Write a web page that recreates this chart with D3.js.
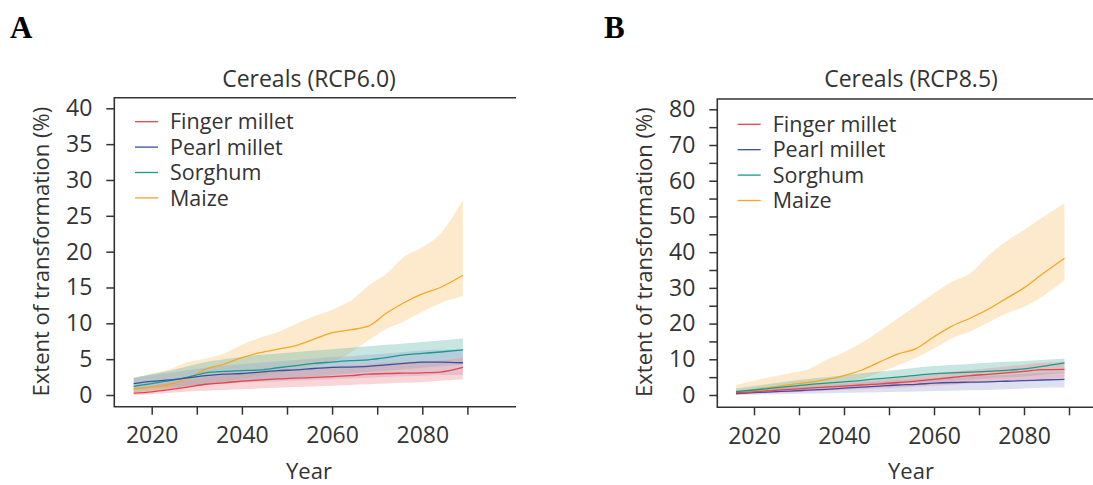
<!DOCTYPE html>
<html>
<head>
<meta charset="utf-8">
<script src="https://cdn.jsdelivr.net/npm/d3@7/dist/d3.min.js"></script>
<style>
  html, body { margin: 0; padding: 0; background: #fff; }
  svg { display: block; }
  text { font-family: "Open Sans", "Noto Sans", sans-serif; fill: #333; }
</style>
</head>
<body>
<svg id="chart" width="1093" height="485"></svg>
<script>
// ---------------- DATA ----------------
const years = [2016, 2020, 2024, 2028, 2032, 2036, 2040, 2044, 2048, 2052, 2056, 2060, 2064, 2068, 2072, 2076, 2080, 2084, 2089];
const crops = ["Finger millet", "Pearl millet", "Sorghum", "Maize"];
const xTicks = [2020, 2030, 2040, 2050, 2060, 2070, 2080, 2090];
const xTickLabels = [2020, 2040, 2060, 2080];
const yTicksA = [0, 5, 10, 15, 20, 25, 30, 35, 40];
const yTicksB = [0, 5, 10, 15, 20, 25, 30, 35, 40, 45, 50, 55, 60, 65, 70, 75, 80];
const yTickLabelsB = [0, 10, 20, 30, 40, 50, 60, 70, 80];

// Panel A  (RCP6.0)
const fingerA_mean = [0.25, 0.45, 0.75, 1.1, 1.5, 1.7, 1.95, 2.1, 2.25, 2.35, 2.45, 2.55, 2.7, 2.9, 3.0, 3.05, 3.1, 3.2, 3.85];
const fingerA_hi   = [1.0, 1.3, 1.7, 2.1, 2.5, 2.8, 3.0, 3.2, 3.4, 3.6, 3.8, 4.0, 4.1, 4.3, 4.5, 4.6, 4.7, 4.8, 5.2];
const fingerA_lo   = [0.0, 0.1, 0.3, 0.5, 0.6, 0.7, 0.8, 0.9, 1.0, 1.1, 1.2, 1.3, 1.4, 1.5, 1.6, 1.7, 1.8, 2.0, 2.2];
const pearlA_mean  = [1.6, 1.9, 2.1, 2.4, 2.7, 2.9, 3.0, 3.2, 3.4, 3.5, 3.7, 3.85, 3.9, 4.0, 4.2, 4.4, 4.6, 4.6, 4.5];
const pearlA_hi    = [2.4, 2.8, 3.1, 3.5, 3.8, 4.1, 4.3, 4.5, 4.7, 4.9, 5.1, 5.3, 5.4, 5.6, 5.8, 6.0, 6.2, 6.3, 6.4];
const pearlA_lo    = [0.8, 1.0, 1.1, 1.3, 1.5, 1.6, 1.7, 1.8, 1.9, 2.0, 2.1, 2.2, 2.3, 2.4, 2.5, 2.6, 2.7, 2.8, 2.8];
const sorghumA_mean= [1.2, 1.6, 2.0, 2.5, 3.1, 3.3, 3.4, 3.5, 3.8, 4.1, 4.4, 4.6, 4.8, 4.9, 5.2, 5.6, 5.8, 6.0, 6.3];
const sorghumA_hi  = [2.4, 2.9, 3.4, 4.0, 4.6, 5.0, 5.3, 5.6, 5.8, 6.0, 6.2, 6.4, 6.6, 6.8, 7.0, 7.2, 7.4, 7.6, 7.9];
const sorghumA_lo  = [0.4, 0.6, 0.8, 1.1, 1.4, 1.6, 1.8, 2.0, 2.2, 2.4, 2.6, 2.8, 3.0, 3.2, 3.4, 3.6, 3.8, 4.0, 4.3];
const maizeA_mean  = [0.85, 1.1, 1.5, 2.3, 3.6, 4.3, 5.2, 5.9, 6.4, 6.9, 7.8, 8.7, 9.1, 9.6, 11.4, 12.9, 14.1, 15.0, 16.7];
const maizeA_hi    = [2.3, 3.0, 3.6, 4.6, 5.1, 5.8, 7.0, 8.0, 8.8, 9.9, 11.0, 11.9, 13.1, 15.2, 16.9, 19.3, 20.6, 22.5, 27.2];
const maizeA_lo    = [0.3, 0.5, 0.8, 1.1, 1.5, 1.9, 2.3, 2.7, 3.1, 3.5, 4.0, 4.6, 5.9, 7.6, 9.2, 10.3, 11.6, 12.8, 13.8];

// Panel B  (RCP8.5)
const fingerB_mean = [0.65, 0.9, 1.25, 1.6, 1.9, 2.2, 2.5, 2.8, 3.1, 3.5, 3.9, 4.4, 4.9, 5.4, 5.8, 6.2, 6.6, 7.1, 7.2];
const fingerB_hi   = [1.3, 1.6, 2.0, 2.4, 2.8, 3.1, 3.5, 3.9, 4.3, 4.8, 5.3, 5.9, 6.5, 7.0, 7.5, 8.0, 8.5, 9.0, 9.4];
const fingerB_lo   = [0.2, 0.4, 0.6, 0.8, 1.0, 1.2, 1.4, 1.6, 1.8, 2.0, 2.3, 2.6, 2.9, 3.2, 3.5, 3.8, 4.1, 4.4, 4.8];
const pearlB_mean  = [0.4, 0.65, 0.9, 1.1, 1.35, 1.6, 1.9, 2.2, 2.5, 2.8, 3.0, 3.3, 3.5, 3.6, 3.7, 3.85, 4.0, 4.2, 4.4];
const pearlB_hi    = [1.0, 1.4, 1.8, 2.1, 2.4, 2.8, 3.1, 3.5, 3.8, 4.1, 4.4, 4.7, 5.0, 5.2, 5.4, 5.7, 5.9, 6.2, 6.5];
const pearlB_lo    = [0.0, 0.1, 0.2, 0.3, 0.4, 0.5, 0.6, 0.7, 0.8, 0.9, 1.0, 1.1, 1.2, 1.3, 1.4, 1.6, 1.8, 2.0, 2.1];
const sorghumB_mean= [0.95, 1.4, 1.9, 2.4, 2.9, 3.3, 3.7, 4.1, 4.6, 5.0, 5.5, 6.0, 6.2, 6.4, 6.6, 6.9, 7.3, 8.0, 9.0];
const sorghumB_hi  = [1.8, 2.5, 3.2, 3.9, 4.5, 5.0, 5.5, 6.1, 6.6, 7.1, 7.6, 8.1, 8.4, 8.7, 9.0, 9.3, 9.5, 9.8, 10.2];
const sorghumB_lo  = [0.4, 0.7, 1.0, 1.3, 1.6, 1.9, 2.2, 2.5, 2.8, 3.1, 3.4, 3.7, 4.0, 4.3, 4.6, 4.9, 5.2, 5.6, 6.3];
const maizeB_mean  = [0.9, 1.5, 2.2, 2.9, 3.5, 4.3, 5.4, 7.0, 9.3, 11.5, 13.0, 16.3, 19.3, 21.5, 24.0, 27.0, 30.0, 33.8, 38.3];
const maizeB_hi    = [2.8, 4.0, 5.1, 6.1, 7.2, 9.8, 12.0, 14.7, 18.0, 21.5, 25.0, 28.5, 31.7, 34.0, 39.0, 43.0, 46.2, 49.6, 53.7];
const maizeB_lo    = [0.0, 0.6, 1.2, 1.8, 2.4, 3.0, 3.6, 4.6, 6.3, 8.3, 10.4, 13.0, 15.9, 17.8, 20.2, 22.8, 24.7, 27.5, 32.2];

// ---------------- STYLE ----------------
const lineColors = { "Finger millet": "#e8424c", "Pearl millet": "#3c4ea0", "Sorghum": "#199a8c", "Maize": "#f5a623" };
const bandColors = { "Finger millet": "#f0888c", "Pearl millet": "#8f98d0", "Sorghum": "#5fb5aa", "Maize": "#f9b54a" };
const bandOpacity = { "Finger millet": 0.35, "Pearl millet": 0.3, "Sorghum": 0.35, "Maize": 0.28 };

const panels = [
  {
    letter: "A", letterX: 10, title: "Cereals (RCP6.0)",
    xRange: [151.7, 422.3], yDomain: [0, 40], yRange: [395, 108.3],
    box: { left: 114.3, right: 516, top: 97.7, bottom: 406.7 },
    yTicks: yTicksA, yLabels: yTicksA,
    yLabelX: 49, legendX: 135, legendY: 121.7,
    series: {
      "Finger millet": [fingerA_mean, fingerA_lo, fingerA_hi],
      "Pearl millet": [pearlA_mean, pearlA_lo, pearlA_hi],
      "Sorghum": [sorghumA_mean, sorghumA_lo, sorghumA_hi],
      "Maize": [maizeA_mean, maizeA_lo, maizeA_hi]
    }
  },
  {
    letter: "B", letterX: 604, title: "Cereals (RCP8.5)",
    xRange: [754, 1024], yDomain: [0, 80], yRange: [395, 109.3],
    box: { left: 717.3, right: 1100, top: 99, bottom: 407.3 },
    yTicks: yTicksB, yLabels: yTickLabelsB,
    yLabelX: 652, legendX: 737.7, legendY: 124.3,
    series: {
      "Finger millet": [fingerB_mean, fingerB_lo, fingerB_hi],
      "Pearl millet": [pearlB_mean, pearlB_lo, pearlB_hi],
      "Sorghum": [sorghumB_mean, sorghumB_lo, sorghumB_hi],
      "Maize": [maizeB_mean, maizeB_lo, maizeB_hi]
    }
  }
];

const svg = d3.select("#chart");

panels.forEach(p => {
  const g = svg.append("g");
  const x = d3.scaleLinear().domain([2020, 2080]).range(p.xRange);
  const y = d3.scaleLinear().domain(p.yDomain).range(p.yRange);
  const b = p.box;
  const cx = (x(2020) + x(2080)) / 2 + 22;

  // panel letter
  g.append("text").attr("x", p.letterX).attr("y", 38)
    .style("font-family", "'Liberation Serif', 'DejaVu Serif', serif")
    .style("font-weight", "bold").style("font-size", "31px").style("fill", "#000")
    .text(p.letter);

  // title
  g.append("text").attr("x", cx).attr("y", 86.7)
    .attr("text-anchor", "middle").style("font-size", "23px").text(p.title);

  // bands
  const order = ["Maize", "Sorghum", "Pearl millet", "Finger millet"];
  order.forEach(c => {
    const [mean, lo, hi] = p.series[c];
    const area = d3.area()
      .x((d, i) => x(years[i]))
      .y0((d, i) => y(lo[i]))
      .y1((d, i) => y(hi[i]))
      .curve(d3.curveMonotoneX);
    g.append("path").datum(years).attr("d", area)
      .attr("fill", bandColors[c]).attr("fill-opacity", bandOpacity[c]).attr("stroke", "none");
  });

  // lines
  order.forEach(c => {
    const mean = p.series[c][0];
    const line = d3.line()
      .x((d, i) => x(years[i]))
      .y((d, i) => y(mean[i]))
      .curve(d3.curveMonotoneX);
    g.append("path").datum(years).attr("d", line)
      .attr("fill", "none").attr("stroke", lineColors[c]).attr("stroke-width", 1.3);
  });

  // box (left, top, bottom)
  g.append("path")
    .attr("d", `M${b.right},${b.top}H${b.left}V${b.bottom}H${b.right}`)
    .attr("fill", "none").attr("stroke", "#333").attr("stroke-width", 1.6);

  // y axis
  const yAxis = d3.axisLeft(y).tickValues(p.yTicks).tickSize(8).tickPadding(14)
    .tickFormat(v => p.yLabels.includes(v) ? String(v) : "");
  const ya = g.append("g").attr("transform", `translate(${b.left},0)`).call(yAxis);
  ya.select(".domain").remove();
  ya.selectAll("line").attr("stroke", "#333").attr("stroke-width", 1.5);
  ya.selectAll("text").style("font-size", "23px").style("fill", "#333")
    .style("font-family", "'Open Sans', sans-serif");

  // x axis
  const xAxis = d3.axisBottom(x).tickValues(xTicks).tickSize(8)
    .tickFormat(v => xTickLabels.includes(v) ? String(v) : "");
  const xa = g.append("g").attr("transform", `translate(0,${b.bottom})`).call(xAxis);
  xa.select(".domain").remove();
  xa.selectAll("line").attr("stroke", "#333").attr("stroke-width", 1.5);
  xa.selectAll("text").attr("y", 36.5).attr("dy", null).style("font-size", "23px").style("fill", "#333")
    .style("font-family", "'Open Sans', sans-serif");

  // axis titles
  g.append("text").attr("x", cx).attr("y", 479)
    .attr("text-anchor", "middle").style("font-size", "22px").text("Year");
  g.append("text")
    .attr("transform", `translate(${p.yLabelX},${(y(0) + y(p.yDomain[1])) / 2}) rotate(-90)`)
    .attr("text-anchor", "middle").style("font-size", "22px")
    .text("Extent of transformation (%)");

  // legend
  crops.forEach((c, i) => {
    const ly = p.legendY + i * 25.4;
    g.append("line").attr("x1", p.legendX).attr("x2", p.legendX + 23)
      .attr("y1", ly).attr("y2", ly)
      .attr("stroke", lineColors[c]).attr("stroke-width", 1.3);
    g.append("text").attr("x", p.legendX + 35).attr("y", ly).attr("dy", "0.36em")
      .style("font-size", "21.5px").text(c);
  });
});
</script>
</body>
</html>
